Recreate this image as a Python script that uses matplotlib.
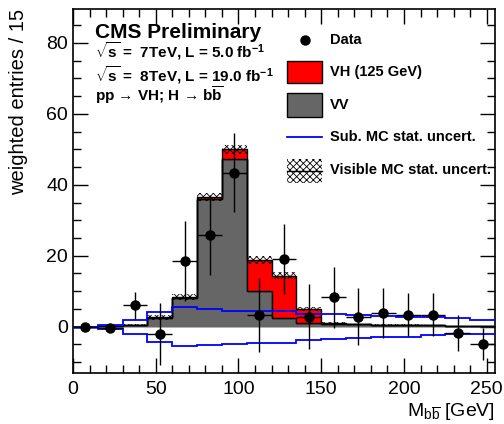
import numpy as np
import matplotlib
matplotlib.use("Agg")
import matplotlib.pyplot as plt
from matplotlib.patches import Rectangle
from matplotlib.lines import Line2D

plt.rcParams['font.family'] = ['Liberation Sans', 'DejaVu Sans']
plt.rcParams['mathtext.fontset'] = 'custom'
plt.rcParams['mathtext.rm'] = 'Liberation Sans'
plt.rcParams['mathtext.it'] = 'Liberation Sans:italic'
plt.rcParams['mathtext.bf'] = 'Liberation Sans:bold'
plt.rcParams['hatch.linewidth'] = 0.6

# ---------------- data ----------------
edges = np.arange(0, 256, 15)
centers = (edges[:-1] + edges[1:]) / 2

vv = [0.0, 0.2, 0.5, 2.5, 8.0, 36.1, 47.4, 10.1, 2.4, 1.1, 0.8, 0.6, 0.5, 0.5, 0.4, 0.2, 0.1]
vh = [0.0, 0.0, 0.0, 0.1, 0.3, 0.5, 2.6, 8.7, 12.0, 3.9, 0.3, 0.05, 0.05, 0.0, 0.0, 0.0, 0.0]
mc_err = [0.05, 0.1, 0.2, 0.6, 0.8, 1.2, 1.3, 1.0, 0.9, 0.6, 0.3, 0.2, 0.2, 0.15, 0.1, 0.1, 0.05]

data = [0.0, -0.4, 6.0, -2.1, 18.6, 25.9, 43.4, 3.3, 19.1, 2.8, 8.3, 2.8, 3.9, 3.4, 3.4, -1.9, -5.0]
data_err = [0.3, 0.3, 3.8, 8.8, 11.3, 11.3, 11.2, 10.4, 9.8, 9.2, 8.6, 8.0, 7.0, 6.1, 6.1, 5.1, 4.5]

sub_up = [0.0, 0.4, 1.9, 4.2, 5.4, 4.9, 4.5, 4.3, 4.3, 3.6, 3.5, 3.3, 3.1, 2.8, 2.6, 2.3, 1.9]
sub_dn = [0.0, -0.7, -2.1, -4.4, -5.6, -5.2, -4.9, -4.5, -4.5, -3.9, -3.6, -3.3, -3.0, -2.8, -2.5, -2.2, -2.0]

x_ticks = [0, 50, 100, 150, 200, 250]
y_ticks = [0, 20, 40, 60, 80]

# ---------------- figure ----------------
W, H = 504, 424
fig = plt.figure(figsize=(W / 100, H / 100), dpi=100)
L, R, T, B = 73, 495, 9.3, 372.7
ax = fig.add_axes([L / W, 1 - B / H, (R - L) / W, (B - T) / H])

vv = np.array(vv); vh = np.array(vh); mc_err = np.array(mc_err)
tot = vv + vh

gray = '#666666'
ax.stairs(vv, edges, baseline=0, fill=True, facecolor=gray, edgecolor='black', lw=1.0, zorder=2)
ax.stairs(tot, edges, baseline=vv, fill=True, facecolor='#ff0000', edgecolor='black', lw=1.0, zorder=2)
ax.stairs(tot + mc_err, edges, baseline=tot - mc_err, fill=True, facecolor='none',
          edgecolor='black', hatch='xxxxx', lw=0, zorder=3)

ax.stairs(sub_up, edges, baseline=None, color='#0000ff', lw=1.3, zorder=4)
ax.stairs(sub_dn, edges, baseline=None, color='#0000ff', lw=1.3, zorder=4)

ax.errorbar(centers, data, yerr=data_err, xerr=7.5, fmt='o', color='black',
            ms=6.5, elinewidth=1.0, capsize=0, zorder=6)

ax.set_xlim(0, 255)
ax.set_ylim(-13, 89.5)
ax.set_xticks(x_ticks)
ax.set_yticks(y_ticks)
ax.set_xticks(np.arange(0, 256, 10), minor=True)
ax.set_yticks(np.arange(-10, 90, 5), minor=True)
ax.tick_params(which='both', direction='in', top=True, right=True, labelsize=14, width=1.0)
ax.tick_params(which='major', length=11)
ax.tick_params(which='minor', length=5.5)
ax.tick_params(axis='x', pad=6)
for s in ax.spines.values():
    s.set_linewidth(1.2)

ax.set_ylabel('weighted entries / 15', fontsize=14.5, loc='top', labelpad=13)
ax.set_xlabel(r'M$_{\mathrm{b\overline{b}}}$ [GeV]', fontsize=14, loc='right', labelpad=2)

def axc(px, py):
    return ((px - L) / (R - L), (B - py) / (B - T))

tr = ax.transAxes
ax.text(*axc(95, 38), 'CMS Preliminary', transform=tr, fontsize=15, fontweight='bold', va='baseline')
ax.text(*axc(95, 58), r'$\mathbf{\sqrt{s}}$ =  7TeV, L = 5.0 fb$^{\mathbf{-1}}$', transform=tr,
        fontsize=11, fontweight='bold', va='baseline')
ax.text(*axc(95, 81), r'$\mathbf{\sqrt{s}}$ =  8TeV, L = 19.0 fb$^{\mathbf{-1}}$', transform=tr,
        fontsize=11, fontweight='bold', va='baseline')
ax.text(*axc(95, 101), 'pp \u2192 VH; H \u2192 b$\\mathbf{\\overline{b}}$', transform=tr,
        fontsize=11, fontweight='bold', va='baseline')

# legend
bx0, bx1 = 287, 322
def box(y0, y1, **kw):
    x0, yy0 = axc(bx0, y1)
    x1, yy1 = axc(bx1, y0)
    ax.add_patch(Rectangle((x0, yy0), x1 - x0, yy1 - yy0, transform=tr, zorder=7, clip_on=False, **kw))

ax.plot(*axc(305, 40), 'o', color='black', ms=6.5, transform=tr, zorder=7)
box(61, 83, facecolor='#ff0000', edgecolor='black', lw=1.0)
box(93, 117, facecolor=gray, edgecolor='black', lw=1.0)
xa, ya = axc(bx0, 137); xb, _ = axc(bx1, 137)
ax.add_line(Line2D([xa, xb], [ya, ya], transform=tr, color='#0000ff', lw=1.3, zorder=7))
box(159, 183, facecolor='none', edgecolor='black', hatch='xxxxx', lw=0)
xa, ya = axc(bx0, 171)
ax.add_line(Line2D([xa, xb], [ya, ya], transform=tr, color='black', lw=1.0, zorder=7))

tx = 330
for label, yc in [('Data', 40), ('VH (125 GeV)', 72), ('VV', 105),
                  ('Sub. MC stat. uncert.', 137), ('Visible MC stat. uncert.', 170)]:
    ax.text(*axc(tx, yc), label, transform=tr, fontsize=10.5, fontweight='bold', va='center')

fig.savefig('out.png', dpi=100)
